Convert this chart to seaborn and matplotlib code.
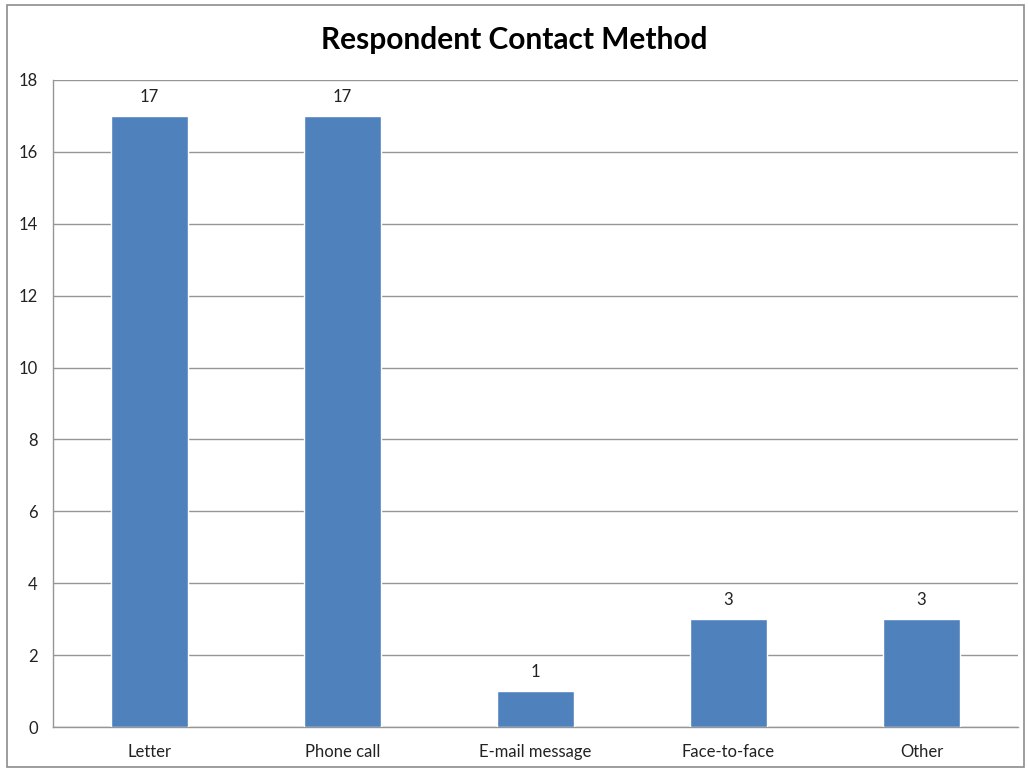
import pandas as pd
import seaborn as sns
import matplotlib.pyplot as plt
from matplotlib.patches import Rectangle

methods = ['Letter', 'Phone call', 'E-mail message', 'Face-to-face', 'Other']
counts = [17, 17, 1, 3, 3]

df = pd.DataFrame({'method': methods, 'count': counts})

sns.set_style('white')
plt.rcParams['font.family'] = ['Lato', 'DejaVu Sans']

fig = plt.figure(figsize=(10.28, 7.70), dpi=100)
ax = fig.add_axes([53/1028, 1 - 727/770, (1018 - 53)/1028, (727 - 80)/770])

sns.barplot(data=df, x='method', y='count', color='#4F81BD', saturation=1,
            width=0.4, ax=ax, zorder=3)

ax.set_ylim(0, 18)
ax.set_xlim(-0.5, len(methods) - 0.5)
ax.set_yticks(range(0, 19, 2))
ax.yaxis.grid(True, color='#969696', linewidth=1, zorder=0)
ax.set_xlabel('')
ax.set_ylabel('')

for side in ['top', 'right']:
    ax.spines[side].set_visible(False)
for side in ['left', 'bottom']:
    ax.spines[side].set_color('#969696')
    ax.spines[side].set_linewidth(1)

ax.tick_params(axis='y', length=5, color='#969696', labelsize=12, labelcolor='#222222', pad=6)
ax.tick_params(axis='x', length=0, labelsize=12, labelcolor='#222222', pad=12)
# category boundary ticks on x axis
ax.set_xticks([i - 0.5 for i in range(len(methods) + 1)], minor=True)
ax.tick_params(axis='x', which='minor', length=5, color='#969696')

for c in ax.containers:
    ax.bar_label(c, padding=8, fontsize=12, color='#222222')

fig.text(0.5, 1 - 40/770, 'Respondent Contact Method', ha='center', va='center',
         fontsize=21.5, fontweight='bold', color='black')

fig.patches.append(Rectangle((7/1028, 1 - 767/770), 1017/1028, 762/770,
                             transform=fig.transFigure, fill=False,
                             edgecolor='#8c8c8c', linewidth=1.2))

fig.savefig('out.png', dpi=100)
